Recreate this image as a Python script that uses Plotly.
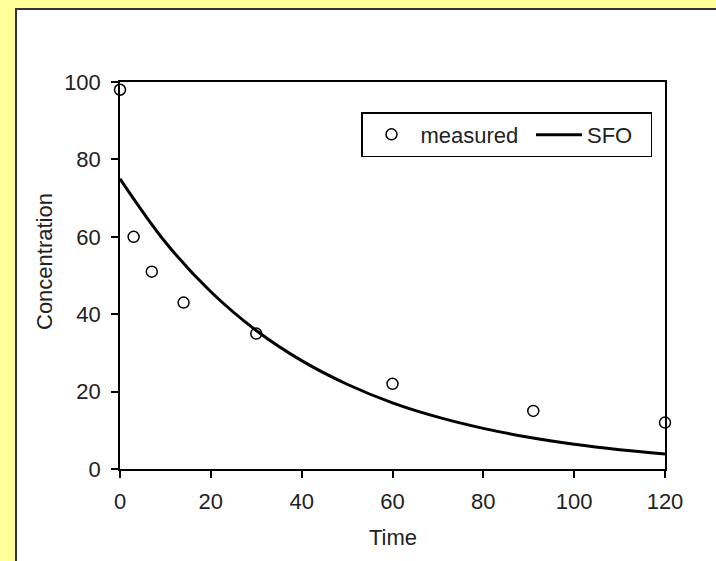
import plotly.graph_objects as go

# Measured concentrations
time_measured = [0, 3, 7, 14, 30, 60, 91, 120]
conc_measured = [98, 60, 51, 43, 35, 22, 15, 12]

# SFO fitted curve
time_sfo = [0, 10, 20, 30, 40, 50, 60, 70, 80, 90, 100, 110, 120]
conc_sfo = [75, 58.6, 45.8, 35.8, 28.0, 21.9, 17.1, 13.4, 10.5, 8.2, 6.4, 5.0, 3.9]

x_ticks = [0, 20, 40, 60, 80, 100, 120]
y_ticks = [0, 20, 40, 60, 80, 100]

FONT = "Liberation Sans, Arial, sans-serif"
TEXT = "#222222"
FS = 22

W, H = 716, 561
L, R, T, B = 120, 51, 82, 92
pw, ph = W - L - R, H - T - B


def px_x(p):
    return (p - L) / pw


def px_y(p):
    return (H - B - p) / ph


fig = go.Figure()

fig.add_trace(go.Scatter(
    x=time_measured, y=conc_measured, mode="markers", name="measured",
    marker=dict(symbol="circle-open", size=11, color="black",
                line=dict(width=1.5, color="black")),
    cliponaxis=False, legend="legend",
))
fig.add_trace(go.Scatter(
    x=time_sfo, y=conc_sfo, mode="lines", name="SFO",
    line=dict(color="black", width=3, shape="spline"),
    legend="legend2",
))

axis_common = dict(
    showline=True, linecolor="black", linewidth=1.5, mirror=True,
    ticks="outside", ticklen=7, tickwidth=1.5, tickcolor="black",
    showgrid=False, zeroline=False,
    tickfont=dict(family=FONT, size=FS, color=TEXT),
)

fig.update_layout(
    width=W, height=H,
    margin=dict(l=L, r=R, t=T, b=B),
    paper_bgcolor="#FFFF99",
    plot_bgcolor="white",
    showlegend=True,
    # boxed legend holding the "measured" entry; the box spans both entries
    legend=dict(
        orientation="h", x=px_x(361), y=px_y(112),
        xanchor="left", yanchor="top",
        bgcolor="white", bordercolor="black", borderwidth=1.5,
        font=dict(family=FONT, size=FS, color=TEXT),
        itemwidth=48, entrywidth=225,
    ),
    # "SFO" entry sits inside the same box
    legend2=dict(
        orientation="h", x=px_x(531), y=px_y(114),
        xanchor="left", yanchor="top",
        bgcolor="rgba(0,0,0,0)", borderwidth=0,
        font=dict(family=FONT, size=FS, color=TEXT),
        itemwidth=46,
    ),
    xaxis=dict(range=[0, 120], tickvals=x_ticks, ticklabelstandoff=5,
               **axis_common),
    yaxis=dict(range=[0, 100], tickvals=y_ticks, ticklabelstandoff=6,
               **axis_common),
    shapes=[dict(
        type="rect", xref="paper", yref="paper", layer="below",
        x0=px_x(16), x1=px_x(730), y0=px_y(575), y1=px_y(9),
        fillcolor="white", line=dict(color="#333333", width=2),
    )],
    annotations=[
        dict(text="Time", xref="paper", yref="paper",
             x=px_x(392.5), y=px_y(537), xanchor="center", yanchor="middle",
             showarrow=False, font=dict(family=FONT, size=FS, color=TEXT)),
        dict(text="Concentration", xref="paper", yref="paper",
             x=px_x(44), y=px_y(262), xanchor="center", yanchor="middle",
             textangle=-90, showarrow=False,
             font=dict(family=FONT, size=FS, color=TEXT)),
    ],
)

fig.write_html("out.html")
